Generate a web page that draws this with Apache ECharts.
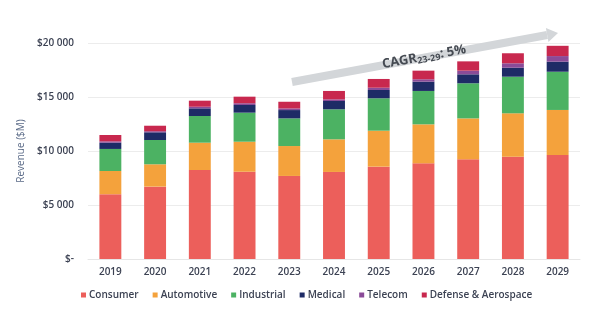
<!DOCTYPE html>
<html>
<head>
<meta charset="utf-8">
<script src="https://cdn.jsdelivr.net/npm/echarts@6/dist/echarts.min.js"></script>
<style>
html,body{margin:0;padding:0;background:#fff;}
#c{width:600px;height:322px;}
</style>
</head>
<body>
<div id="c"></div>
<script>
const years = ['2019','2020','2021','2022','2023','2024','2025','2026','2027','2028','2029'];
const consumer   = [6000, 6700, 8240, 8080, 7690, 8060, 8550, 8860, 9230, 9470, 9630];
const automotive = [2150, 2070, 2530, 2780, 2770, 3020, 3330, 3610, 3790, 4020, 4170];
const industrial = [2040, 2250, 2470, 2690, 2560, 2780, 3000, 3090, 3250, 3390, 3540];
const medical    = [580, 710, 710, 710, 770, 770, 770, 860, 830, 830, 930];
const telecom    = [120, 100, 150, 160, 150, 150, 210, 220, 340, 410, 520];
const defense    = [590, 510, 560, 610, 620, 780, 810, 800, 860, 930, 950];
const yTicks = [0, 5000, 10000, 15000, 20000];

const FONT = '"Open Sans", sans-serif';
const TXT = '#3c4253';
const names = ['Consumer','Automotive','Industrial','Medical','Telecom','Defense & Aerospace'];
const colors = ['#ec5f5b','#f4a23c','#4cb263','#1e2b66','#8a4b98','#c8284e'];
const datas = [consumer, automotive, industrial, medical, telecom, defense];

function fmt(v){
  if (v === 0) return '$-';
  return '$' + String(v).replace(/\B(?=(\d{3})+(?!\d))/g, ' ');
}

const chart = echarts.init(document.getElementById('c'), null, {renderer:'canvas'});

// arrow annotation geometry
const x1 = 292, y1 = 82, tipX = 558, tipY = 33;
const dx = tipX - x1, dy = tipY - y1, L = Math.sqrt(dx*dx+dy*dy);
const ux = dx/L, uy = dy/L, px = -uy, py = ux;
const hl = 11, hw = 7;
const bx = tipX - hl*ux, by = tipY - hl*uy;
const ang = Math.atan2(-dy, dx);

chart.setOption({
  animation: false,
  textStyle: {fontFamily: FONT},
  color: colors,
  grid: {left: 88, right: 20, top: 43, bottom: 63},
  legend: {
    data: names,
    left: 76,
    top: 285,
    icon: 'rect',
    itemWidth: 5,
    itemHeight: 5,
    itemGap: 14,
    textStyle: {fontFamily: FONT, fontSize: 10, color: TXT, fontWeight: 600, padding:[0,0,0,-2]}
  },
  xAxis: {
    type: 'category',
    data: years,
    axisLine: {show: true, lineStyle: {color: '#e6e6e6'}},
    axisTick: {show: false},
    axisLabel: {color: TXT, fontSize: 10, fontWeight: 600, margin: 8}
  },
  yAxis: {
    type: 'value',
    min: 0, max: 20000, interval: 5000,
    name: 'Revenue ($M)',
    nameLocation: 'middle',
    nameGap: 54,
    nameTextStyle: {color: '#5b6b88', fontSize: 10, fontFamily: FONT},
    axisLine: {show: false},
    axisTick: {show: false},
    splitLine: {lineStyle: {color: '#ececec'}},
    axisLabel: {color: TXT, fontSize: 10, fontWeight: 600, margin: 14,
      formatter: v => yTicks.includes(v) ? fmt(v) : ''}
  },
  series: datas.map((d, i) => ({
    name: names[i],
    type: 'bar',
    stack: 'total',
    barWidth: '49%',
    data: d,
    itemStyle: {color: colors[i]}
  })),
  graphic: [
    {
      type: 'line',
      z: 100,
      shape: {x1: x1, y1: y1, x2: bx, y2: by},
      style: {stroke: '#d3d6d9', lineWidth: 8}
    },
    {
      type: 'polygon',
      z: 100,
      shape: {points: [[tipX, tipY], [bx + hw*px, by + hw*py], [bx - hw*px, by - hw*py]]},
      style: {fill: '#d3d6d9'}
    },
    {
      type: 'text',
      z: 101,
      x: 424, y: 57,
      rotation: ang,
      style: {
        text: '{a|CAGR}{b|23-29}{a|: 5%}',
        align: 'center',
        verticalAlign: 'middle',
        rich: {
          a: {fontFamily: FONT, fontSize: 13, fontWeight: 700, fill: '#454a52', color: '#454a52', verticalAlign: 'bottom'},
          b: {fontFamily: FONT, fontSize: 9, fontWeight: 700, fill: '#454a52', color: '#454a52', verticalAlign: 'bottom', padding:[0,0,-1,0]}
        }
      }
    }
  ]
});
</script>
</body>
</html>
